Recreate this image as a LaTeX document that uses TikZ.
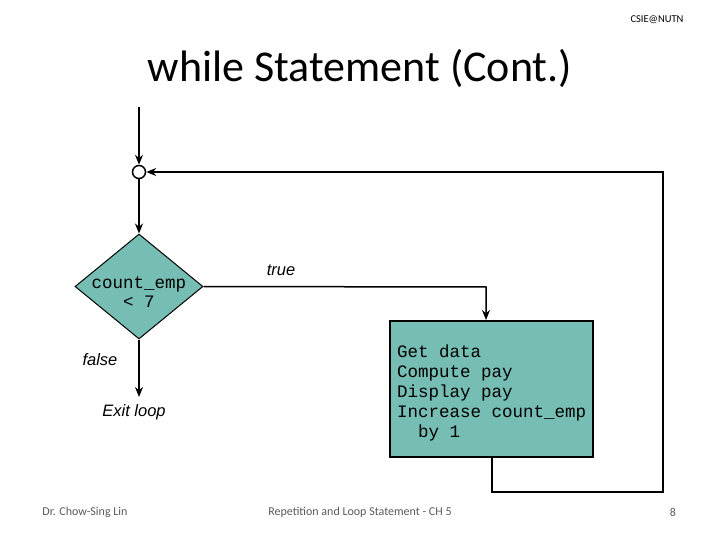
\documentclass[tikz,border=0pt]{standalone}
\usepackage{fontspec}
\setmainfont{Carlito}
\newfontfamily\labelfont{Liberation Sans}
\newfontfamily\codefont{Liberation Mono}
\usetikzlibrary{shapes.geometric,arrows.meta}
\definecolor{teal1}{RGB}{118,189,180}
\definecolor{footgray}{RGB}{90,90,90}
\tikzset{
  flow/.style={draw=black, line width=1.5pt, -{Stealth[length=10pt,width=8pt]}},
  lbl/.style={font=\labelfont\itshape\fontsize{16.5}{19}\selectfont, inner sep=0pt},
  code/.style={font=\codefont\fontsize{17.5}{20}\selectfont},
  foot/.style={font=\fontsize{12}{14}\selectfont, text=footgray, inner sep=0pt}
}
\begin{document}
\begin{tikzpicture}[x=1pt,y=-1pt]
\useasboundingbox (0,0) rectangle (720,540);
% header / footer
\node[font=\fontsize{10.5}{12}\selectfont, inner sep=0pt] (hdr) at (657,20) {CSIE@NUTN};
\node[font=\fontsize{44}{50}\selectfont, inner sep=0pt] (title) at (360,68) {while Statement (Cont.)};
\node[foot] (f1) at (85,512) {Dr. Chow-Sing Lin};
\node[foot] (f2) at (360,512) {Repetition and Loop Statement - CH 5};
\node[foot] (f3) at (673,512) {8};
% flowchart
\coordinate (start) at (139,107);
\node[circle, draw=black, line width=1.5pt, fill=white, minimum size=13pt, inner sep=0pt] (join) at (139,172) {};
\node[diamond, draw=black, line width=1pt, fill=teal1, minimum width=128pt, minimum height=105pt, inner sep=0pt, aspect=1.22] (dec) at (139,286.5) {};
\node[code, inner sep=0pt, anchor=base] (dectext) at (139,288) {count\_emp};
\node[code, inner sep=0pt, anchor=base] (dectext2) at (139,307) {< 7};
\node[draw=black, line width=1.5pt, fill=teal1, minimum width=203pt, minimum height=136pt, inner sep=0pt, anchor=north west] (box) at (389,320) {};
\node[code, align=left, anchor=base west, inner sep=0pt] (boxtext) at (397,437) {Get data\\Compute pay\\Display pay\\Increase count\_emp\\\ \ by 1};
\coordinate (exit) at (139,397);
\coordinate (tcorner) at (486,287);
\coordinate (b1) at (492,492);
\coordinate (b2) at (663,492);
\coordinate (b3) at (663,172);
\draw[flow] (start) -- (join);
\draw[flow] (join) -- (dec.north);
\draw[flow] (dec.east) -- (tcorner) -- (box.north -| tcorner);
\draw[flow] (dec.south) -- (exit);
\draw[flow] (box.south -| b1) -- (b1) -- (b2) -- (b3) -- (join.east);
\node[lbl] (ltrue) at (281,270) {true};
\node[lbl] (lfalse) at (100,360) {false};
\node[lbl] (lexit) at (134,412) {Exit loop};
\end{tikzpicture}
\end{document}
